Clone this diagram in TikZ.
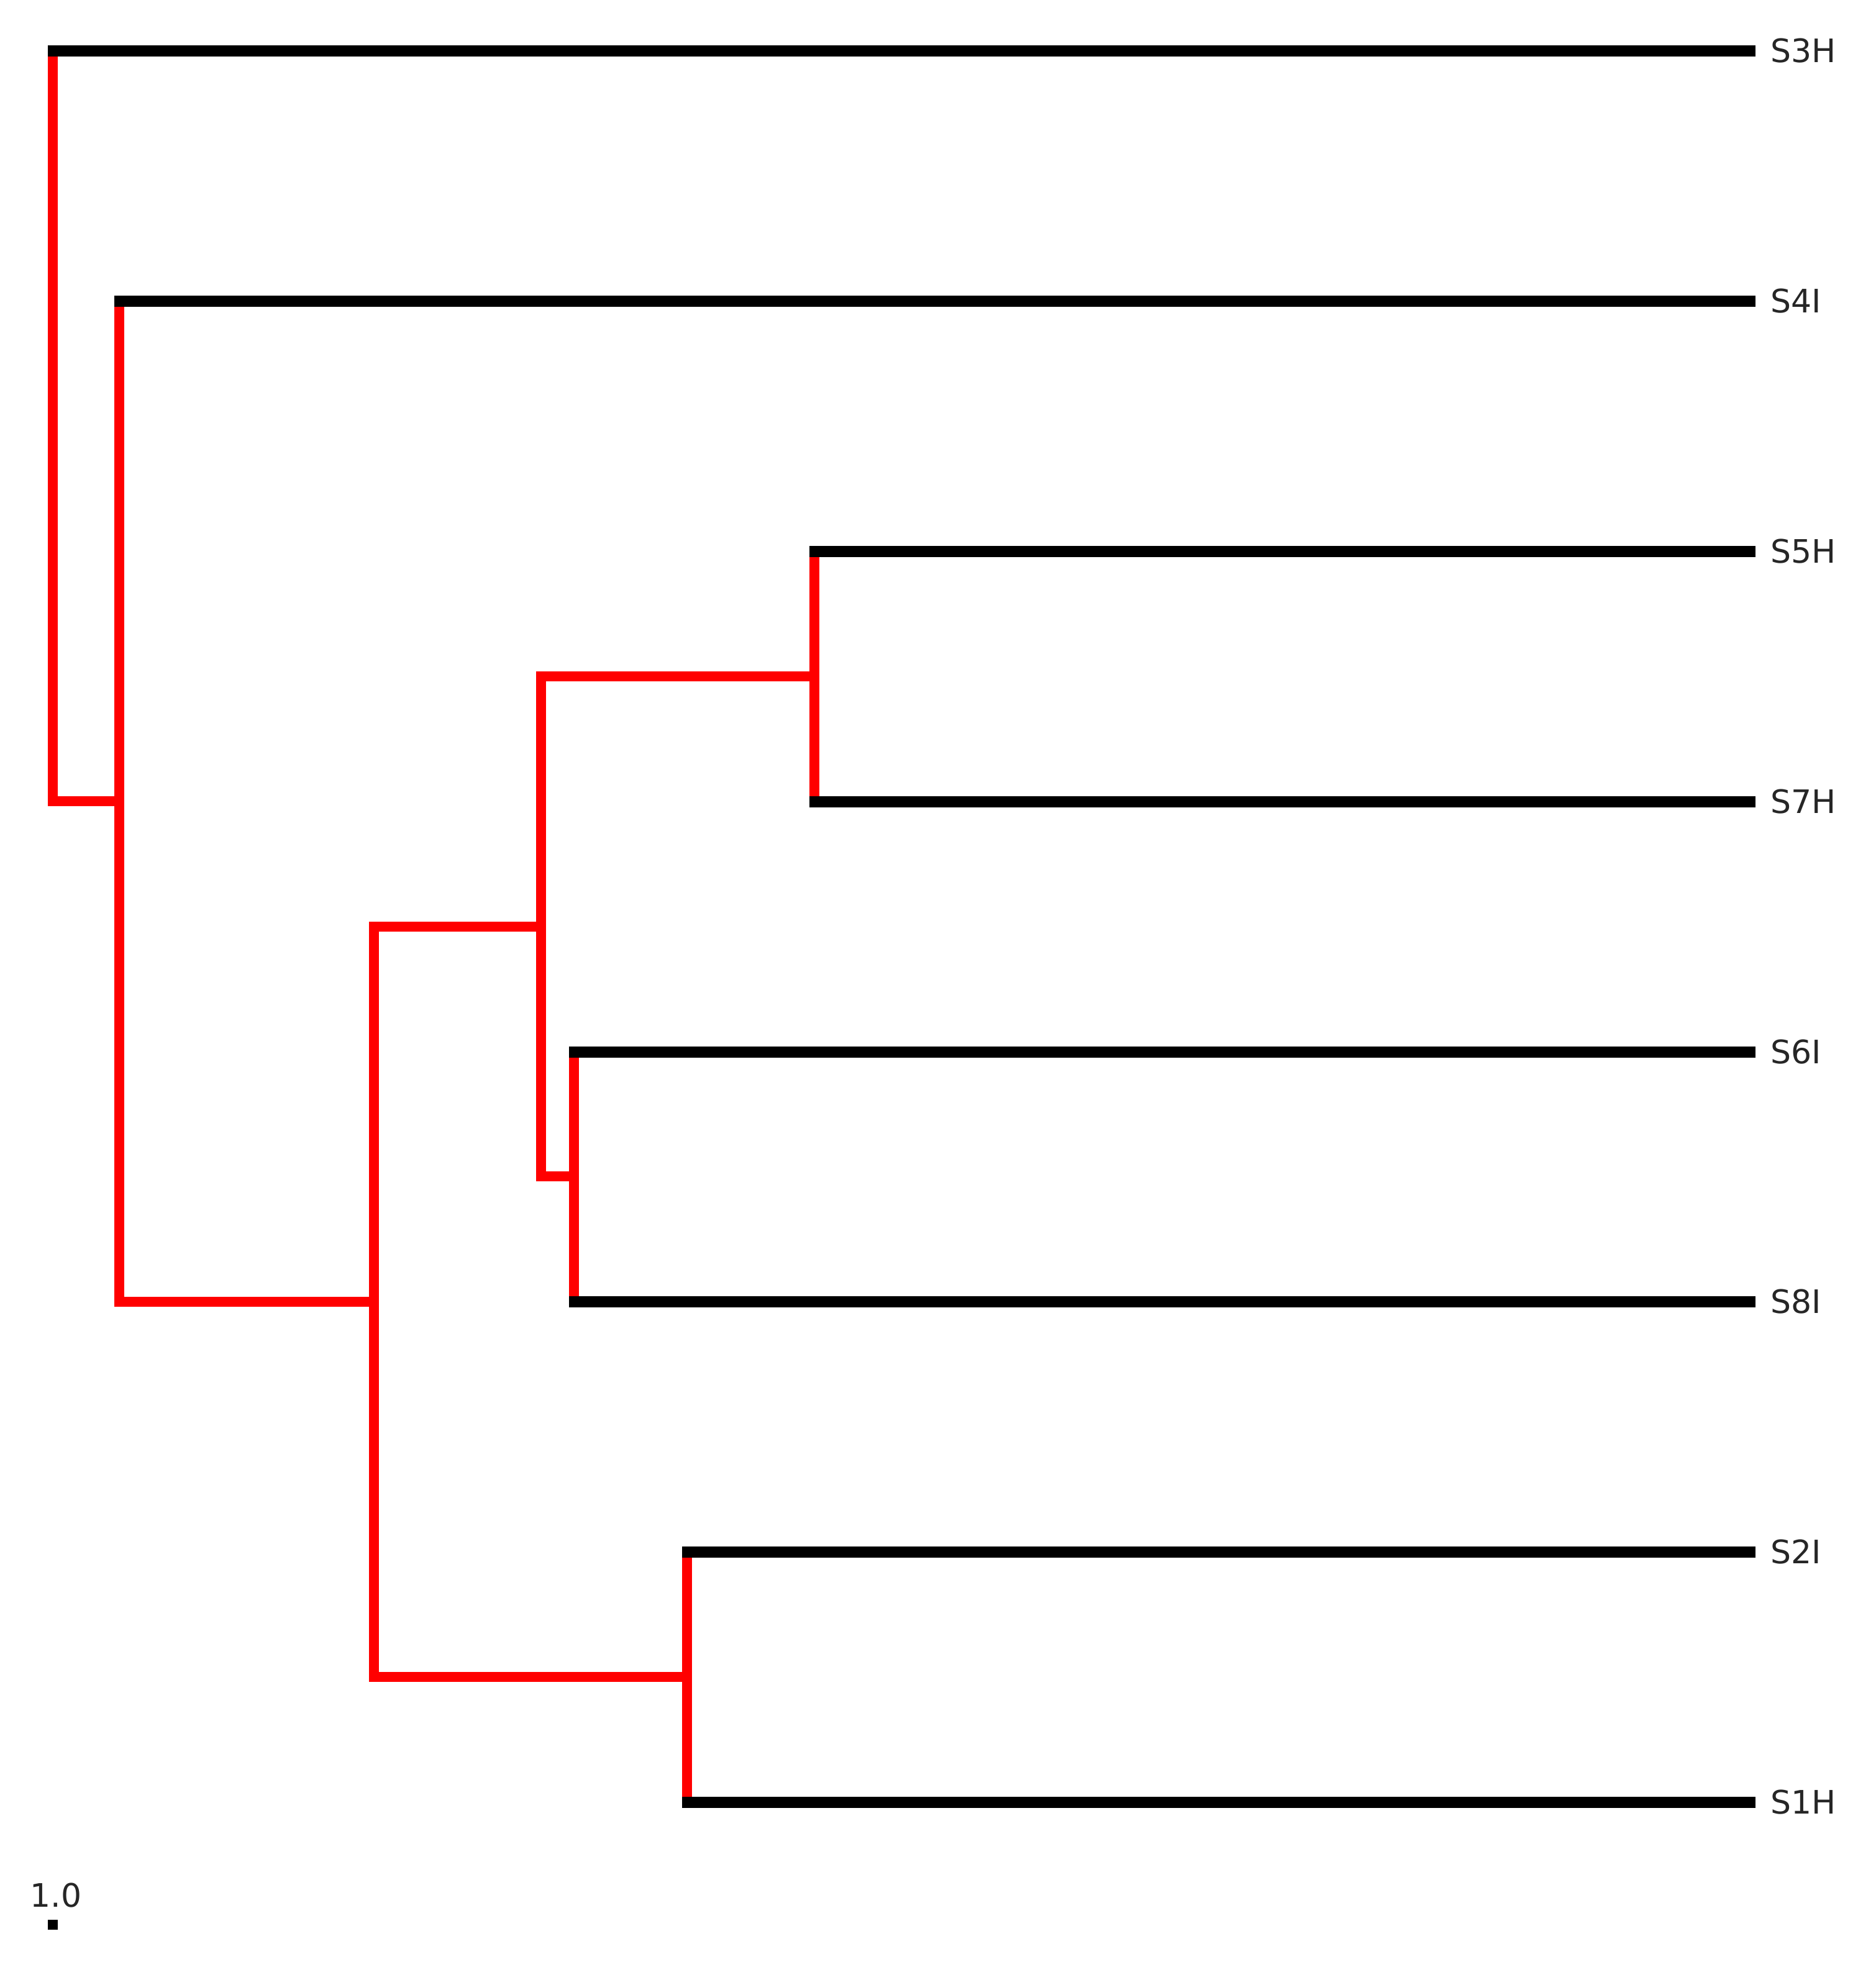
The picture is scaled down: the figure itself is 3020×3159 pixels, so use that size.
\documentclass[tikz,border=0pt]{standalone}
\usepackage{fontspec}
\setmainfont{DejaVu Sans}
\begin{document}
\begin{tikzpicture}[x=0.01cm,y=-0.01cm,
  clade/.style={draw=red, line width=4.6pt, line cap=rect},
  leafline/.style={draw=black, line width=5.3pt, shorten <=-0.08cm},
  lab/.style={anchor=west, inner sep=0pt, font=\fontsize{14.8}{16}\selectfont, text=black!85}]
\useasboundingbox (0,0) rectangle (3020,3159);
% internal nodes
\coordinate (root) at (85,1290);
\coordinate (nA) at (192,1290);
\coordinate (nB) at (602,2096);
\coordinate (nC) at (871,1492);
\coordinate (nD) at (1311,1089);
\coordinate (nE) at (924,1894);
\coordinate (nF) at (1106,2700);
% leaf ends
\coordinate (e3) at (2826,82);
\coordinate (e4) at (2826,485);
\coordinate (e5) at (2826,888);
\coordinate (e7) at (2826,1291);
\coordinate (e6) at (2826,1694);
\coordinate (e8) at (2826,2096);
\coordinate (e2) at (2826,2499);
\coordinate (e1) at (2826,2902);
% red clade lines
\draw[clade] (root |- e3) -- (root |- nA);
\draw[clade] (root) -- (nA);
\draw[clade] (nA |- e4) -- (nA |- nB);
\draw[clade] (nA |- nB) -- (nB);
\draw[clade] (nB |- nC) -- (nB |- nF);
\draw[clade] (nB |- nC) -- (nC);
\draw[clade] (nB |- nF) -- (nF);
\draw[clade] (nC |- nD) -- (nC |- nE);
\draw[clade] (nC |- nD) -- (nD);
\draw[clade] (nC |- nE) -- (nE);
\draw[clade] (nD |- e5) -- (nD |- e7);
\draw[clade] (nE |- e6) -- (nE |- e8);
\draw[clade] (nF |- e2) -- (nF |- e1);
% black leaf lines
\draw[leafline] (root |- e3) -- (e3);
\draw[leafline] (nA |- e4) -- (e4);
\draw[leafline] (nD |- e5) -- (e5);
\draw[leafline] (nD |- e7) -- (e7);
\draw[leafline] (nE |- e6) -- (e6);
\draw[leafline] (nE |- e8) -- (e8);
\draw[leafline] (nF |- e2) -- (e2);
\draw[leafline] (nF |- e1) -- (e1);
% labels
\node[lab] (l3) at (2850,82) {S3H};
\node[lab] (l4) at (2850,485) {S4I};
\node[lab] (l5) at (2850,888) {S5H};
\node[lab] (l7) at (2850,1291) {S7H};
\node[lab] (l6) at (2850,1694) {S6I};
\node[lab] (l8) at (2850,2096) {S8I};
\node[lab] (l2) at (2850,2499) {S2I};
\node[lab] (l1) at (2850,2902) {S1H};
% scale mark
\node[inner sep=0pt, font=\fontsize{14.8}{16}\selectfont, text=black!85] (scale) at (90,3052) {1.0};
\node[fill=black, inner sep=0pt, minimum size=0.16cm] (dot) at (85,3099) {};
\end{tikzpicture}
\end{document}
